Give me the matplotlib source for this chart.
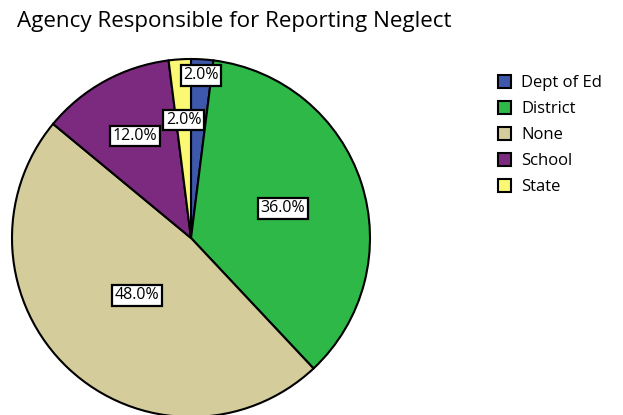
import matplotlib
matplotlib.use("Agg")
import matplotlib.pyplot as plt
import numpy as np

# Survey answers: who is responsible for reporting neglect
agencies = ["Dept of Ed", "District", "None", "School", "State"]
percents = [2.0, 36.0, 48.0, 12.0, 2.0]
colors = ["#3E58AC", "#2EB848", "#D4CC9A", "#7B2A7F", "#FBF873"]

# radial position of each percentage box, as a fraction of the radius
label_r = [0.91, 0.54, 0.44, 0.65, 0.66]

plt.rcParams["font.family"] = ["Open Sans", "DejaVu Sans"]

W, H = 623, 415
fig = plt.figure(figsize=(W / 100, H / 100), dpi=100)
ax = fig.add_axes([0, 0, 1, 1])
R = 179.0
cx, cy = 191.0, 238.0

wedges, _ = ax.pie(
    percents, colors=colors, startangle=90, counterclock=False,
    radius=1.0, center=(0, 0), frame=True,
    wedgeprops=dict(edgecolor="black", linewidth=1.5),
)
ax.set_xlim(-cx / R, (W - cx) / R)
ax.set_ylim(-(H - cy) / R, cy / R)
ax.set_aspect("equal")
ax.axis("off")

for w, p, fr in zip(wedges, percents, label_r):
    mid = np.deg2rad((w.theta1 + w.theta2) / 2)
    ax.text(fr * np.cos(mid), fr * np.sin(mid), f"{p:.1f}%",
            ha="center", va="center", fontsize=11.5,
            bbox=dict(boxstyle="square,pad=0.15", fc="white", ec="black", lw=1.6))

fig.text(17 / W, 1 - 22 / H, "Agency Responsible for Reporting Neglect",
         ha="left", va="center", fontsize=16.1)

leg = fig.legend(wedges, agencies, loc="upper left",
                 bbox_to_anchor=(483 / W, 1 - 60 / H), frameon=False,
                 fontsize=12, handlelength=0.78, handleheight=0.78,
                 handletextpad=0.6, labelspacing=0.6)

fig.savefig("out.png", dpi=100)
